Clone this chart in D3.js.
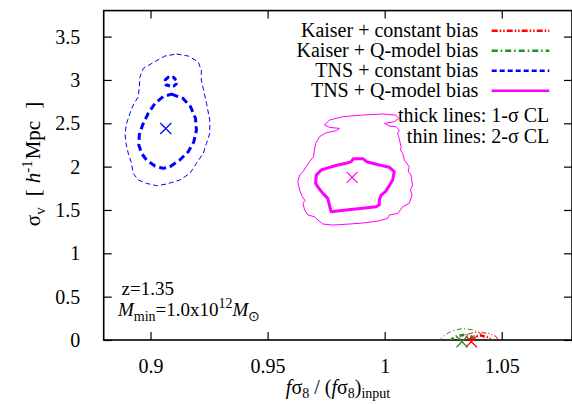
<!DOCTYPE html>
<html><head><meta charset="utf-8">
<script src="https://cdn.jsdelivr.net/npm/d3@7"></script>
<style>
body{margin:0;background:#fff;}
svg text{font-family:"Liberation Serif","Times New Roman",serif;fill:#000;}
</style></head>
<body><svg id="c" width="572" height="404"></svg>
<script>
// ---- data ----
const xTicks = [0.9, 0.95, 1, 1.05];
const xTickLabels = ["0.9", "0.95", "1", "1.05"];
const yTicks = [0, 0.5, 1, 1.5, 2, 2.5, 3, 3.5];
const yTickLabels = ["0", "0.5", "1", "1.5", "2", "2.5", "3", "3.5"];

const seriesNames = ["Kaiser + constant bias", "Kaiser + Q-model bias", "TNS + constant bias", "TNS + Q-model bias"];
const seriesColors = ["#ff0000", "#1f8f1f", "#0000ff", "#ff00ff"];
const seriesDash = ["6,2,1.5,2,1.5,2", "6,3,1.5,3", "5,3", null];

// best fit (f sigma8 ratio, sigma_v)
const bestFitX = [1.037, 1.033, 0.9065, 0.9861];
const bestFitY = [-0.02, -0.02, 2.44, 1.876];

// TNS + constant bias
const tnsConst1sig = [[0.9090,2.837],[0.9139,2.787],[0.9171,2.691],[0.9192,2.557],[0.9196,2.422],[0.9185,2.288],[0.9161,2.172],[0.9125,2.076],[0.9083,1.999],[0.9054,1.980],[0.9019,2.007],[0.8983,2.076],[0.8962,2.153],[0.8950,2.249],[0.8952,2.364],[0.8966,2.480],[0.8990,2.614],[0.9019,2.730],[0.9054,2.807]];
const tnsConst1sigIsland = [[0.9063,3.000],[0.9075,3.030],[0.9098,3.030],[0.9110,2.995],[0.9110,2.955],[0.9100,2.930],[0.9083,2.930],[0.9065,2.945]];
const tnsConst2sig = [[0.9111,3.299],[0.9161,3.276],[0.9203,3.210],[0.9217,3.114],[0.9217,2.999],[0.9225,2.903],[0.9239,2.730],[0.9253,2.537],[0.9253,2.384],[0.9239,2.268],[0.9225,2.153],[0.9196,2.038],[0.9168,1.922],[0.9125,1.845],[0.9068,1.799],[0.9026,1.780],[0.8983,1.807],[0.8948,1.845],[0.8926,1.922],[0.8919,2.038],[0.8905,2.153],[0.8895,2.268],[0.8891,2.384],[0.8898,2.499],[0.8912,2.614],[0.8926,2.711],[0.8948,2.807],[0.8952,2.922],[0.8955,3.037],[0.8969,3.133],[0.9011,3.199],[0.9061,3.276]];

// TNS + Q-model bias
const tnsQ1sig = [[0.9857,2.057],[0.9866,2.090],[0.9908,2.090],[0.9923,2.057],[0.9977,2.018],[1.0020,1.992],[1.0041,1.942],[1.0034,1.845],[1.0017,1.769],[1.0003,1.711],[0.9985,1.672],[0.9977,1.615],[0.9977,1.557],[0.9963,1.538],[0.9906,1.519],[0.9835,1.499],[0.9771,1.480],[0.9764,1.557],[0.9757,1.634],[0.9736,1.692],[0.9719,1.749],[0.9705,1.807],[0.9708,1.903],[0.9729,1.961],[0.9764,1.992],[0.9800,2.018],[0.9835,2.038]];
const tnsQ2sig = [[0.9743,2.480],[0.9764,2.537],[0.9821,2.576],[0.9906,2.595],[0.9992,2.607],[1.0048,2.595],[1.0060,2.557],[1.0041,2.518],[0.9999,2.499],[1.0020,2.468],[1.0048,2.461],[1.0063,2.422],[1.0055,2.380],[1.0060,2.345],[1.0070,2.230],[1.0068,2.190],[1.0077,2.153],[1.0084,2.076],[1.0105,1.999],[1.0100,1.950],[1.0112,1.903],[1.0119,1.788],[1.0110,1.730],[1.0117,1.672],[1.0105,1.576],[1.0077,1.538],[1.0056,1.461],[1.0020,1.442],[1.0013,1.403],[0.9977,1.376],[0.9921,1.353],[0.9850,1.338],[0.9779,1.326],[0.9736,1.338],[0.9715,1.384],[0.9700,1.422],[0.9672,1.442],[0.9658,1.499],[0.9651,1.576],[0.9660,1.610],[0.9648,1.653],[0.9637,1.730],[0.9629,1.826],[0.9637,1.903],[0.9651,1.942],[0.9665,1.999],[0.9679,2.057],[0.9696,2.115],[0.9700,2.191],[0.9705,2.268],[0.9722,2.345],[0.9750,2.391],[0.9793,2.414],[0.9807,2.441],[0.9764,2.453]];

// Kaiser contours (cut by the sigma_v = 0 boundary)
const kaiserConst1sig = [[1.0356,-0.01],[1.0379,0.040],[1.0410,0.053],[1.0441,0.032],[1.0457,-0.01]];
const kaiserConst2sig = [[1.0309,-0.01],[1.0340,0.061],[1.0395,0.091],[1.0449,0.074],[1.0476,0.040],[1.0488,-0.02]];
const kaiserQ1sig = [[1.0278,-0.01],[1.0300,0.040],[1.0340,0.061],[1.0371,0.040],[1.0387,-0.01]];
const kaiserQ2sig = [[1.0231,-0.02],[1.0247,0.040],[1.0286,0.104],[1.0332,0.133],[1.0379,0.117],[1.0410,0.074],[1.0433,-0.01]];

// ---- drawing ----
const svg = d3.select("#c");
const L = 103.7, R = 572, T = 10.6, B = 340;
const x = d3.scaleLinear().domain([0.88, 1.08]).range([L, R]);
const y = d3.scaleLinear().domain([0, 3.8]).range([B, T]);

svg.append("defs").append("clipPath").attr("id", "clip")
  .append("rect").attr("x", L).attr("y", T).attr("width", R - L).attr("height", B - T);

const fs = "20px";
function styleAxis(g) {
  g.select(".domain").remove();
  g.selectAll(".tick line").attr("stroke", "#000").attr("stroke-width", 1.2);
  g.selectAll(".tick text").style("font-size", fs).attr("fill", "#000");
}
svg.append("g").attr("transform", `translate(0,${B})`)
  .call(d3.axisBottom(x).tickValues(xTicks).tickFormat((d, i) => xTickLabels[i]).tickSizeInner(-8).tickSizeOuter(0).tickPadding(19))
  .call(styleAxis);
svg.append("g").attr("transform", `translate(0,${T})`)
  .call(d3.axisTop(x).tickValues(xTicks).tickFormat("").tickSizeInner(-8).tickSizeOuter(0))
  .call(styleAxis);
svg.append("g").attr("transform", `translate(${L},0)`)
  .call(d3.axisLeft(y).tickValues(yTicks).tickFormat((d, i) => yTickLabels[i]).tickSizeInner(-8).tickSizeOuter(0).tickPadding(23.5))
  .call(styleAxis);
svg.append("g").attr("transform", `translate(${R},0)`)
  .call(d3.axisRight(y).tickValues(yTicks).tickFormat("").tickSizeInner(-8).tickSizeOuter(0))
  .call(styleAxis);

svg.append("rect").attr("x", L).attr("y", T).attr("width", R - L).attr("height", B - T)
  .attr("fill", "none").attr("stroke", "#000").attr("stroke-width", 1.6);

const closed = d3.line().x(d => x(d[0])).y(d => y(d[1])).curve(d3.curveLinearClosed);
const open = d3.line().x(d => x(d[0])).y(d => y(d[1]));
const cg = svg.append("g").attr("clip-path", "url(#clip)");

function contour(pts, gen, si, w, dash) {
  cg.append("path").attr("d", gen(pts)).attr("fill", "none")
    .attr("stroke", seriesColors[si]).attr("stroke-width", w)
    .attr("stroke-dasharray", dash).attr("stroke-linejoin", "round");
}
contour(kaiserQ2sig, open, 1, 1, "5,2.5,1.2,2.5");
contour(kaiserQ1sig, open, 1, 2.5, "5,2.5,1.2,2.5");
contour(kaiserConst2sig, open, 0, 1, "5,2,1.2,2,1.2,2");
contour(kaiserConst1sig, open, 0, 2.5, "5,2,1.2,2,1.2,2");
contour(tnsConst2sig, closed, 2, 1, "5,3");
contour(tnsConst1sig, closed, 2, 3, "7,4");
contour(tnsConst1sigIsland, closed, 2, 3, "5,3");
contour(tnsQ2sig, closed, 3, 1, null);
contour(tnsQ1sig, closed, 3, 3, null);

// best-fit crosses
const mg = svg.append("g");
bestFitX.forEach((bx, i) => {
  const cx = x(bx), cy = y(bestFitY[i]), s = 5.5;
  mg.append("path").attr("d", `M${cx - s},${cy - s}L${cx + s},${cy + s}M${cx - s},${cy + s}L${cx + s},${cy - s}`)
    .attr("stroke", seriesColors[i]).attr("stroke-width", 1.2).attr("fill", "none");
});

// legend
const lg = svg.append("g");
seriesNames.forEach((n, i) => {
  const yy = 30.7 + i * 20;
  lg.append("text").attr("x", 478.3).attr("y", yy + 6).attr("text-anchor", "end").style("font-size", fs).text(n);
  lg.append("line").attr("x1", 491.7).attr("x2", 549.3).attr("y1", yy).attr("y2", yy)
    .attr("stroke", seriesColors[i]).attr("stroke-width", 2.5).attr("stroke-dasharray", seriesDash[i]);
});
lg.append("text").attr("x", 549.3).attr("y", 122).attr("text-anchor", "end").style("font-size", fs).text("thick lines: 1-σ CL");
lg.append("text").attr("x", 549.3).attr("y", 142.5).attr("text-anchor", "end").style("font-size", fs).text("thin lines: 2-σ CL");

// annotations
svg.append("text").attr("x", 121.5).attr("y", 295).style("font-size", "19px").text("z=1.35");
const mt = svg.append("text").attr("x", 118).attr("y", 315.5).style("font-size", "19px");
mt.append("tspan").style("font-style", "italic").text("M");
mt.append("tspan").attr("dy", 5).style("font-size", "14px").text("min");
mt.append("tspan").attr("dy", -5).text("=1.0x10");
mt.append("tspan").attr("dy", -8).style("font-size", "14px").text("12");
mt.append("tspan").attr("dy", 8).style("font-style", "italic").text("M");
mt.append("tspan").attr("dy", 5).style("font-size", "14px").text("\u2299");

// axis titles
const xt = svg.append("text").attr("x", 338).attr("y", 394).attr("text-anchor", "middle").style("font-size", fs);
xt.append("tspan").style("font-style", "italic").text("f");
xt.append("tspan").text("σ");
xt.append("tspan").attr("dy", 4).style("font-size", "14px").text("8");
xt.append("tspan").attr("dy", -4).text(" / (");
xt.append("tspan").style("font-style", "italic").text("f");
xt.append("tspan").text("σ");
xt.append("tspan").attr("dy", 4).style("font-size", "14px").text("8");
xt.append("tspan").attr("dy", -4).text(")");
xt.append("tspan").attr("dy", 4).style("font-size", "14px").text("input");

const yt = svg.append("text").attr("transform", "translate(40,164) rotate(-90)").attr("text-anchor", "middle").style("font-size", "21px");
yt.append("tspan").text("σ");
yt.append("tspan").attr("dy", 5).style("font-size", "15px").text("v");
yt.append("tspan").attr("dy", -5).attr("dx", 11).text("[");
yt.append("tspan").attr("dx", 6).style("font-style", "italic").text("h");
yt.append("tspan").attr("dy", -8).style("font-size", "15px").text("-1");
yt.append("tspan").attr("dy", 8).attr("dx", 1).text("Mpc");
yt.append("tspan").attr("dx", 12).text("]");
</script></body></html>
